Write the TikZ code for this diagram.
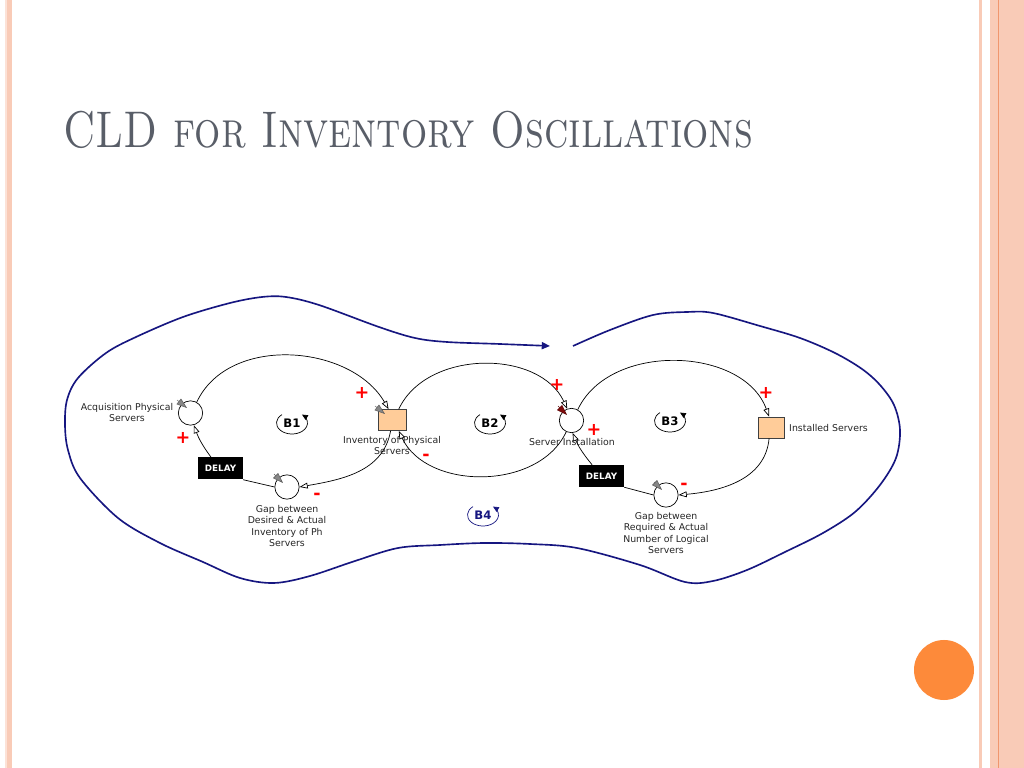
\documentclass[tikz,border=0pt]{standalone}
\usepackage{fontspec}
\newfontfamily\vfont{DejaVu Sans}
\usetikzlibrary{arrows.meta}
\definecolor{titlegrey}{RGB}{89,94,104}
\definecolor{loopblue}{RGB}{22,22,128}
\definecolor{stockfill}{RGB}{255,204,153}
\definecolor{edgepink}{RGB}{249,203,183}
\definecolor{edgeline}{RGB}{240,150,110}
\definecolor{dotorange}{RGB}{253,138,58}
\definecolor{valvegrey}{RGB}{135,135,135}
\definecolor{valvered}{RGB}{128,10,10}

\begin{document}
\begin{tikzpicture}[x=0.03cm,y=0.03cm]
\tikzstyle{every node}+=[inner sep=0pt]
\tikzstyle{var}=[circle,draw=black,line width=0.6pt,minimum size=0.73cm]
\tikzstyle{stock}=[rectangle,draw=black!75,fill=stockfill,line width=0.6pt,minimum width=0.84cm,minimum height=0.63cm]
\tikzstyle{delaybox}=[fill=black,text=white,font=\vfont\bfseries\fontsize{7.5}{9}\selectfont,minimum width=1.35cm,minimum height=0.66cm]
\tikzstyle{lbl}=[font=\vfont\fontsize{8}{9.4}\selectfont,align=center,text=black!85]
\tikzstyle{link}=[line width=0.6pt,-{Triangle[open,fill=white,length=7pt,width=5pt]}]
\tikzstyle{plain}=[line width=0.6pt]
\tikzstyle{sign}=[text=red,font=\vfont\bfseries\fontsize{15}{15}\selectfont]
\tikzstyle{minus}=[sign,text height=0.5em,text depth=0pt]
\tikzstyle{loopname}=[font=\vfont\bfseries\fontsize{10}{12}\selectfont]
\tikzstyle{looparc}=[line width=0.6pt,-{Triangle[length=5pt,width=4.5pt]}]
\tikzstyle{valve}=[line width=0.4pt,draw=black!65,-{Triangle[length=9pt,width=6pt,fill=valvegrey]}]
\useasboundingbox (0,0) rectangle (1024,-768);
\fill[white] (0,0) rectangle (1024,-768);
\fill[edgepink!55] (5,0) rectangle (7,-768);
\fill[edgepink] (7,0) rectangle (12,-768);
\fill[edgepink] (979,0) rectangle (982,-768);
\fill[edgepink] (990,0) rectangle (1024,-768);
\draw[edgeline,line width=0.8pt] (998,0) -- (998,-768);
\fill[dotorange] (944,-670) circle[radius=0.9cm];
\node[anchor=base west,text=titlegrey,font=\fontsize{44}{52}\selectfont,xscale=0.8,transform shape] (title) at (63,-148) {\textsc{CLD for Inventory Oscillations}};

\node[var] (acq) at (190.5,-413) {};
\node[lbl] (acqlbl) at (127,-413) {Acquisition Physical\\Servers};
\node[stock] (inv) at (392.5,-420) {};
\node[lbl] (invlbl) at (392,-446) {Inventory of Physical\\Servers};
\node[var] (srv) at (571.5,-420.5) {};
\node[lbl] (srvlbl) at (572,-442) {Server Installation};
\node[stock,minimum width=0.78cm] (inst) at (771,-427.5) {};
\node[lbl,anchor=west] (instlbl) at (789,-428) {Installed Servers};
\node[var] (gapph) at (287,-487) {};
\node[lbl] (gapphlbl) at (287,-526) {Gap between\\Desired \& Actual\\Inventory of Ph\\Servers};
\node[var] (gaplog) at (666,-495) {};
\node[lbl] (gaploglbl) at (666,-533) {Gap between\\Required \& Actual\\Number of Logical\\Servers};
\node[delaybox] (delayph) at (220.5,-468.5) {DELAY};
\node[delaybox] (delaylog) at (601.5,-476) {DELAY};

\draw[valve] (177,-400) -- (187,-408);
\draw[valve] (375,-406) -- (385,-414);
\draw[valve,draw=valvered!70!black,-{Triangle[length=9pt,width=6pt,fill=valvered]}] (558,-406) -- (567,-415);
\draw[valve] (274,-474) -- (283,-483);
\draw[valve] (654,-482) -- (662,-490);

\draw[link] (acq.60) to[out=65,in=120] (inv.110);
\draw[link] (inv.-100) to[out=-100,in=10] (gapph.east);
\draw[plain] (gapph.west) -- (delayph.south east);
\draw[link] (delayph.130) to[bend left=8] (acq.-75);
\draw[link] (inv.60) to[out=65,in=115] (srv.110);
\draw[link] (srv.-115) to[out=-115,in=-65] (inv.-60);
\draw[link] (srv.60) to[out=65,in=110] (inst.100);
\draw[link] (inst.-100) to[out=-95,in=5] (gaplog.east);
\draw[plain] (gaplog.west) -- (delaylog.south east);
\draw[link] (delaylog.130) to[bend left=8] (srv.-85);

\node[sign] (s1) at (362,-393) {+};
\node[sign] (s2) at (183,-438) {+};
\node[minus] (s3) at (317,-497) {-};
\node[minus] (s4) at (426,-458) {-};
\node[sign] (s5) at (557,-385) {+};
\node[sign] (s6) at (594,-430) {+};
\node[sign] (s7) at (766,-393) {+};
\node[minus] (s8) at (684,-487) {-};

\node[loopname] (b1) at (292,-423) {B1};
\draw[looparc] ([shift={(130:0.465cm and 0.33cm)}]b1.center) arc[start angle=130,end angle=410,x radius=0.465cm,y radius=0.33cm];
\node[loopname] (b2) at (490,-423) {B2};
\draw[looparc] ([shift={(130:0.465cm and 0.33cm)}]b2.center) arc[start angle=130,end angle=410,x radius=0.465cm,y radius=0.33cm];
\node[loopname] (b3) at (670,-421) {B3};
\draw[looparc] ([shift={(130:0.465cm and 0.33cm)}]b3.center) arc[start angle=130,end angle=410,x radius=0.465cm,y radius=0.33cm];
\node[loopname,text=loopblue] (b4) at (483,-515) {B4};
\draw[looparc,loopblue] ([shift={(130:0.465cm and 0.33cm)}]b4.center) arc[start angle=130,end angle=410,x radius=0.465cm,y radius=0.33cm];

\draw[loopblue,line width=1.4pt,-{Triangle[length=7pt,width=6pt]}] plot[smooth,tension=0.55] coordinates {(573,-346) (610,-330) (653,-315) (687,-312) (713,-313) (760,-326) (800,-338) (835,-353) (862,-369) (880,-385) (894,-405) (900,-430) (896,-458) (880,-485) (855,-512) (823,-533) (785,-552) (747,-570) (713,-581) (685,-582) (640,-565) (577,-548) (530,-544) (484,-543) (440,-545) (398,-548) (355,-561) (310,-576) (274,-583) (240,-578) (203,-562) (160,-543) (118,-518) (80,-478) (68,-450) (65,-425) (67,-400) (78,-378) (106,-353) (136,-337) (183,-317) (230,-303) (262,-297) (286,-297) (319,-305) (379,-327) (415,-338) (447,-342) (500,-344) (550,-346)};
\end{tikzpicture}
\end{document}
